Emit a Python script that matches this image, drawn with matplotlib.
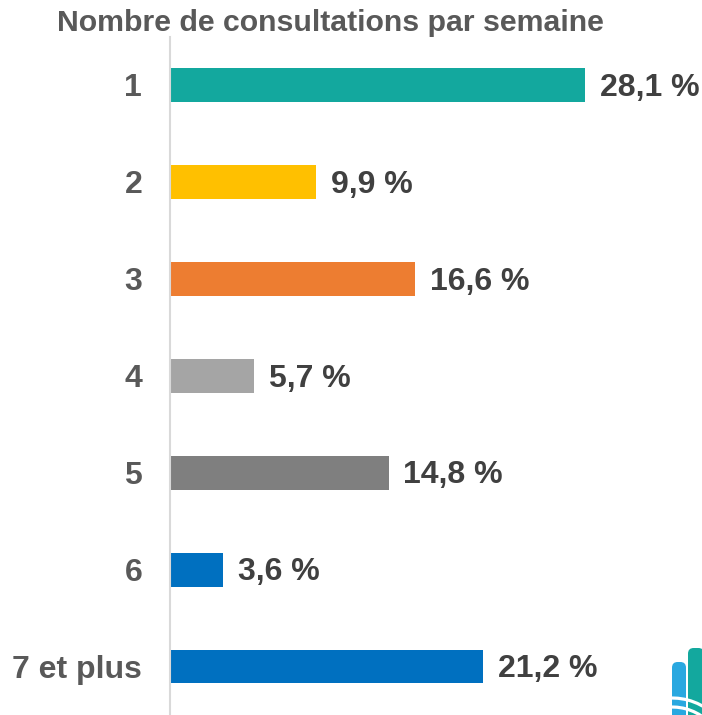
import matplotlib
matplotlib.use("Agg")
import matplotlib.pyplot as plt
from matplotlib.patches import FancyBboxPatch, Arc

categories = ["1", "2", "3", "4", "5", "6", "7 et plus"]
values = [28.1, 9.9, 16.6, 5.7, 14.8, 3.6, 21.2]
labels = ["28,1 %", "9,9 %", "16,6 %", "5,7 %", "14,8 %", "3,6 %", "21,2 %"]
colors = ["#13A89E", "#FFC000", "#ED7D31", "#A5A5A5", "#7F7F7F", "#0070C0", "#0070C0"]
title = "Nombre de consultations par semaine"

plt.rcParams['font.family'] = ['Liberation Sans', 'DejaVu Sans']

W, H = 702, 715
fig = plt.figure(figsize=(W / 100, H / 100), dpi=100)
ax = fig.add_axes([170 / W, 0, 530 / W, (H - 36.5) / H])

y = list(range(len(categories)))
ax.barh(y, values, height=0.35, color=colors)
ax.set_ylim(6.5, -0.5)
ax.set_xlim(0, 530 / 14.77)

for yi, v, lab in zip(y, values, labels):
    ax.annotate(lab, (v, yi), xytext=(10.5, -2), textcoords="offset points",
                ha="left", va="center", fontsize=23, fontweight="bold", color="#404040")

ax.set_yticks(y)
ax.set_yticklabels(categories, fontsize=23, fontweight="bold", color="#595959")
ax.tick_params(axis="y", length=0, pad=20)
ax.set_xticks([])
for s in ["top", "right", "bottom"]:
    ax.spines[s].set_visible(False)
ax.spines["left"].set_color("#D9D9D9")
ax.spines["left"].set_linewidth(1.5)
ax.patch.set_alpha(0)

fig.text(330 / W, 1 - 23 / H, title, ha="center", va="center",
         fontsize=21.8, fontweight="bold", color="#595959")

# partial logo at bottom right
def px(x0, y0, w, h):
    return (x0 / W, 1 - (y0 + h) / H, w / W, h / H)

for (x0, y0, w, h, c) in [(672, 662, 14, 60, "#29A8E0"), (688, 648, 16, 74, "#13A89E")]:
    bx, by, bw, bh = px(x0, y0, w, h)
    fig.patches.append(FancyBboxPatch((bx, by), bw, bh, boxstyle="round,pad=0,rounding_size=0.008",
                                      transform=fig.transFigure, color=c, lw=0))
for r in [62, 53]:
    fig.patches.append(Arc((672 / W, 1 - 760 / H), 2 * r / W, 2 * r / H,
                           theta1=50, theta2=100, transform=fig.transFigure,
                           color="white", lw=2.3))
fig.savefig("out.png", dpi=100)
